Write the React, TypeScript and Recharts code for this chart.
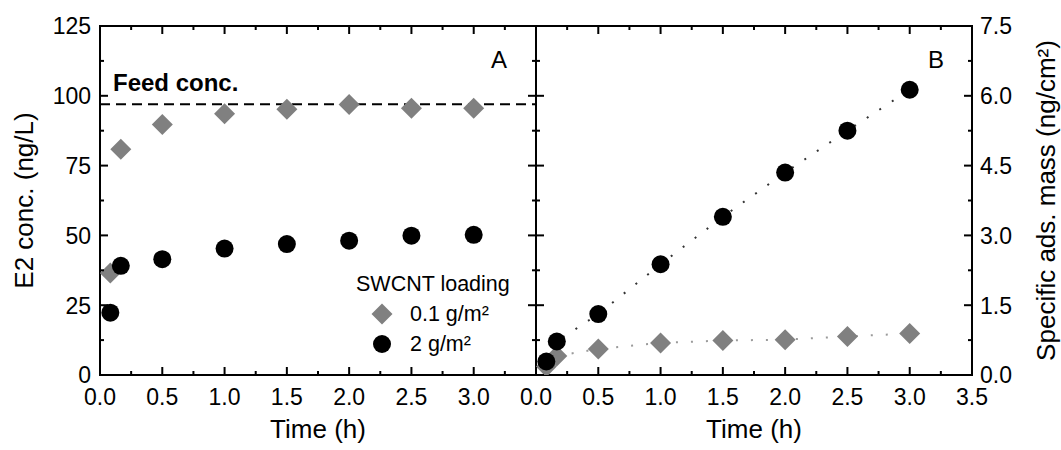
import { Legend, ReferenceLine, Scatter, ScatterChart, XAxis, YAxis } from "recharts";

// sampling times (h)
const timeH = [0.083, 0.167, 0.5, 1, 1.5, 2, 2.5, 3];

// panel A: permeate E2 conc. (ng/L)
const concLow = [36.5, 80.9, 89.7, 93.6, 95.2, 96.9, 95.5, 95.5];
const concHigh = [22.3, 39.1, 41.5, 45.3, 46.9, 48.1, 49.9, 50.2];
const feedConc = 97;

// panel B: specific adsorbed mass (ng/cm2)
const massLow = [0.18, 0.41, 0.56, 0.69, 0.74, 0.76, 0.83, 0.89];
const massHigh = [0.29, 0.72, 1.31, 2.38, 3.4, 4.35, 5.25, 6.13];

const seriesNames = ["0.1 g/m²", "2 g/m²"];

const timeMajor = [0, 0.5, 1, 1.5, 2, 2.5, 3, 3.5];
const timeMinor = [0.25, 0.75, 1.25, 1.75, 2.25, 2.75, 3.25];
const timeLabelsA = [0, 0.5, 1, 1.5, 2, 2.5, 3];
const timeLabelsB = [0, 0.5, 1, 1.5, 2, 2.5, 3, 3.5];
const concMajor = [0, 25, 50, 75, 100, 125];
const concMinor = [12.5, 37.5, 62.5, 87.5, 112.5];
const massMajor = [0, 1.5, 3, 4.5, 6, 7.5];
const massMinor = [0.75, 2.25, 3.75, 5.25, 6.75];

const FONT = "Arial, 'Liberation Sans', Helvetica, sans-serif";
const GRAY = "#808080";
const axisStyle = { stroke: "#000", strokeWidth: 2, strokeLinecap: "square" as const };

const sorted = (a: number[], b: number[]) => [...a, ...b].sort((p, q) => p - q);
const timeTicks = sorted(timeMajor, timeMinor);
const concTicks = sorted(concMajor, concMinor);
const massTicks = sorted(massMajor, massMinor);

const toRows = (ys: number[]) => timeH.map((t, i) => ({ t, v: ys[i] }));

type Side = "bottom" | "top" | "left" | "right";

function tickFor(side: Side, major: number[], labels: number[], fmt: (v: number) => string) {
  return (props: any) => {
    const { x, y, payload } = props;
    const v = payload.value as number;
    const len = major.includes(v) ? 8 : 4;
    const show = labels.includes(v);
    const txt = { fontFamily: FONT, fontSize: 23, fill: "#000" };
    const ln = { stroke: "#000", strokeWidth: 2 };
    let line = null;
    let label = null;
    if (side === "bottom") {
      line = <line x1={x} x2={x} y1={y} y2={y - len} {...ln} />;
      if (show) label = <text x={x} y={y + 30} textAnchor="middle" {...txt}>{fmt(v)}</text>;
    } else if (side === "top") {
      line = <line x1={x} x2={x} y1={y} y2={y + len} {...ln} />;
    } else if (side === "left") {
      line = <line x1={x} x2={x + len} y1={y} y2={y} {...ln} />;
      if (show) label = <text x={x - 9} y={y + 8.3} textAnchor="end" {...txt}>{fmt(v)}</text>;
    } else {
      line = <line x1={x} x2={x - len} y1={y} y2={y} {...ln} />;
      if (show) label = <text x={x + 8} y={y + 8.3} textAnchor="start" {...txt}>{fmt(v)}</text>;
    }
    return (
      <g>
        {line}
        {label}
      </g>
    );
  };
}

const oneDec = (v: number) => v.toFixed(1);
const plain = (v: number) => String(v);

function Diamond(props: any) {
  const { cx, cy } = props;
  const h = 10.5;
  return <path d={`M${cx},${cy - h}L${cx + h},${cy}L${cx},${cy + h}L${cx - h},${cy}Z`} fill={GRAY} />;
}

function Dot(props: any) {
  const { cx, cy } = props;
  return <circle cx={cx} cy={cy} r={9} fill="#000" />;
}

function LoadingLegend({ payload }: any) {
  return (
    <div style={{ fontFamily: FONT, fontSize: 21.5, color: "#000", lineHeight: "30px" }}>
      <div>SWCNT loading</div>
      {(payload || []).map((p: any, i: number) => (
        <div key={p.value} style={{ display: "flex", alignItems: "center", height: 30 }}>
          <svg width={24} height={24} style={{ marginLeft: 14, marginRight: 16 }}>
            {i === 0 ? <Diamond cx={12} cy={12} /> : <Dot cx={12} cy={12} />}
          </svg>
          <span>{p.value}</span>
        </div>
      ))}
    </div>
  );
}

const titleStyle = { fontFamily: FONT, fontSize: 26, fill: "#000" };

const common = {
  type: "number" as const,
  interval: 0 as const,
  tickSize: 0,
  tickMargin: 0,
  allowDataOverflow: true,
  axisLine: axisStyle,
};

function PanelA() {
  return (
    <ScatterChart width={540} height={450} margin={{ top: 20, right: 0, bottom: 0, left: 0 }}>
      <XAxis
        {...common}
        xAxisId="bottom"
        dataKey="t"
        domain={[0, 3.5]}
        ticks={timeTicks}
        height={75}
        tick={tickFor("bottom", timeMajor, timeLabelsA, oneDec)}
        label={{ value: "Time (h)", position: "insideBottom", offset: 12, ...titleStyle }}
      />
      <XAxis
        {...common}
        xAxisId="top"
        orientation="top"
        dataKey="t"
        domain={[0, 3.5]}
        ticks={timeTicks}
        height={6}
        tick={tickFor("top", timeMajor, [], oneDec)}
      />
      <YAxis
        {...common}
        yAxisId="left"
        dataKey="v"
        domain={[0, 125]}
        ticks={concTicks}
        width={100}
        tick={tickFor("left", concMajor, concMajor, plain)}
        label={{
          value: "E2 conc. (ng/L)",
          angle: -90,
          position: "insideLeft",
          offset: 24,
          style: { textAnchor: "middle" },
          ...titleStyle,
        }}
      />
      <YAxis
        {...common}
        yAxisId="right"
        orientation="right"
        dataKey="v"
        domain={[0, 125]}
        ticks={concTicks}
        width={4}
        tick={tickFor("right", concMajor, [], plain)}
      />
      <ReferenceLine
        xAxisId="bottom"
        yAxisId="left"
        y={feedConc}
        stroke="#000"
        strokeWidth={2}
        strokeDasharray="10 6"
        label={{
          value: "Feed conc.",
          position: "insideBottomLeft",
          offset: 13,
          fontFamily: FONT,
          fontSize: 24,
          fontWeight: "bold",
          fill: "#000",
        }}
      />
      <Scatter
        xAxisId="bottom"
        yAxisId="left"
        name={seriesNames[0]}
        data={toRows(concLow)}
        fill={GRAY}
        shape={Diamond}
        isAnimationActive={false}
      />
      <Scatter
        xAxisId="bottom"
        yAxisId="left"
        name={seriesNames[1]}
        data={toRows(concHigh)}
        fill="#000"
        shape={Dot}
        isAnimationActive={false}
      />
      <Legend
        layout="vertical"
        align="center"
        verticalAlign="middle"
        content={LoadingLegend}
        wrapperStyle={{ left: 356, top: 269, width: 170 }}
      />
      <text x={499} y={67.5} textAnchor="middle" fontFamily={FONT} fontSize={24} fill="#000">
        A
      </text>
    </ScatterChart>
  );
}

function PanelB() {
  return (
    <ScatterChart width={561} height={450} margin={{ top: 20, right: 0, bottom: 0, left: 0 }}>
      <XAxis
        {...common}
        xAxisId="bottom"
        dataKey="t"
        domain={[0, 3.5]}
        ticks={timeTicks}
        height={75}
        tick={tickFor("bottom", timeMajor, timeLabelsB, oneDec)}
        label={{ value: "Time (h)", position: "insideBottom", offset: 12, ...titleStyle }}
      />
      <XAxis
        {...common}
        xAxisId="top"
        orientation="top"
        dataKey="t"
        domain={[0, 3.5]}
        ticks={timeTicks}
        height={6}
        tick={tickFor("top", timeMajor, [], oneDec)}
      />
      <YAxis
        {...common}
        yAxisId="left"
        dataKey="v"
        domain={[0, 7.5]}
        ticks={massTicks}
        width={36}
        tick={tickFor("left", massMajor, [], oneDec)}
      />
      <YAxis
        {...common}
        yAxisId="right"
        orientation="right"
        dataKey="v"
        domain={[0, 7.5]}
        ticks={massTicks}
        width={89}
        tick={tickFor("right", massMajor, massMajor, oneDec)}
        label={{
          value: "Specific ads. mass (ng/cm²)",
          angle: -90,
          position: "insideRight",
          offset: 15,
          style: { textAnchor: "middle" },
          ...titleStyle,
        }}
      />
      <Scatter
        xAxisId="bottom"
        yAxisId="right"
        name={seriesNames[0]}
        data={toRows(massLow)}
        fill={GRAY}
        shape={Diamond}
        line={{ stroke: "#9a9a9a", strokeWidth: 2, strokeDasharray: "2 13" }}
        isAnimationActive={false}
      />
      <Scatter
        xAxisId="bottom"
        yAxisId="right"
        name={seriesNames[1]}
        data={toRows(massHigh)}
        fill="#000"
        shape={Dot}
        line={{ stroke: "#333", strokeWidth: 2, strokeDasharray: "2 13" }}
        isAnimationActive={false}
      />
      <text x={436} y={67.5} textAnchor="middle" fontFamily={FONT} fontSize={24} fill="#000">
        B
      </text>
    </ScatterChart>
  );
}

export default function App() {
  return (
    <div style={{ position: "absolute", left: 0, top: 0, width: 1061, height: 450, background: "#fff" }}>
      <div style={{ position: "absolute", left: 0, top: 0 }}>
        <PanelA />
      </div>
      <div style={{ position: "absolute", left: 500, top: 0 }}>
        <PanelB />
      </div>
    </div>
  );
}
